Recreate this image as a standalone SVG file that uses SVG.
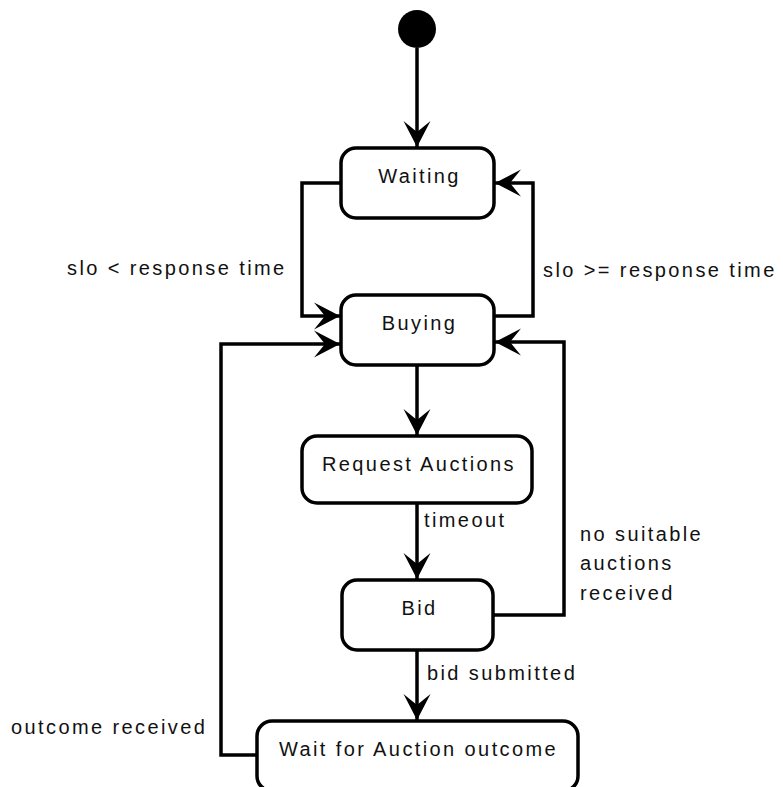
<svg xmlns="http://www.w3.org/2000/svg" width="783" height="787" viewBox="0 0 783 787">
  <style>
    .state rect { fill: #ffffff; stroke: #000000; stroke-width: 3.5; }
    .state text, .label { font-family: "Liberation Sans", Arial, sans-serif; font-size: 20px; letter-spacing: 2.4px; fill: #111111; }
    .state text { text-anchor: middle; }
    .edge { fill: none; stroke: #000000; stroke-width: 3.5; marker-end: url(#arrow); }
  </style>
  <defs>
    <marker id="arrow" markerUnits="userSpaceOnUse" viewBox="-28 -15 30 30" refX="0" refY="0" markerWidth="30" markerHeight="30" orient="auto">
      <path d="M0,0 L-26,-13.5 L-15,0 L-26,13.5 Z" fill="#000000"/>
    </marker>
  </defs>
  <rect width="783" height="787" fill="#ffffff"/>

  <!-- initial pseudo-state -->
  <g id="start">
    <circle cx="417" cy="29" r="19" fill="#000000"/>
  </g>

  <g id="waiting" class="state">
    <rect x="341" y="148" width="153" height="70" rx="15"/>
    <text x="419.5" y="183">Waiting</text>
  </g>
  <g id="buying" class="state">
    <rect x="341" y="295" width="153" height="70" rx="15"/>
    <text x="419.5" y="330">Buying</text>
  </g>
  <g id="request-auctions" class="state">
    <rect x="302" y="436" width="230" height="67" rx="15"/>
    <text x="419" y="471">Request Auctions</text>
  </g>
  <g id="bid" class="state">
    <rect x="342" y="580" width="151" height="70" rx="15"/>
    <text x="419.5" y="615">Bid</text>
  </g>
  <g id="wait-outcome" class="state">
    <rect x="257" y="721" width="321" height="70" rx="15"/>
    <text x="418.5" y="756">Wait for Auction outcome</text>
  </g>

  <!-- transitions -->
  <g id="connectors">
    <path class="edge" d="M417,48 V147"/>
    <path class="edge" d="M341,183 H302 V316 H340"/>
    <path class="edge" d="M494,316 H533 V183 H495"/>
    <path class="edge" d="M417,365 V435"/>
    <path class="edge" d="M417,503 V579"/>
    <path class="edge" d="M493,615 H564 V342 H495"/>
    <path class="edge" d="M417,650 V720"/>
    <path class="edge" d="M257,755 H221 V344 H340"/>
  </g>

  <g id="labels">
    <text class="label" x="67" y="275">slo &lt; response time</text>
    <text class="label" x="543" y="277">slo &gt;= response time</text>
    <text class="label" x="424" y="527">timeout</text>
    <text class="label" x="580" y="541">no suitable</text>
    <text class="label" x="580" y="570">auctions</text>
    <text class="label" x="580" y="600">received</text>
    <text class="label" x="427" y="680">bid submitted</text>
    <text class="label" x="11" y="734">outcome received</text>
  </g>
</svg>
